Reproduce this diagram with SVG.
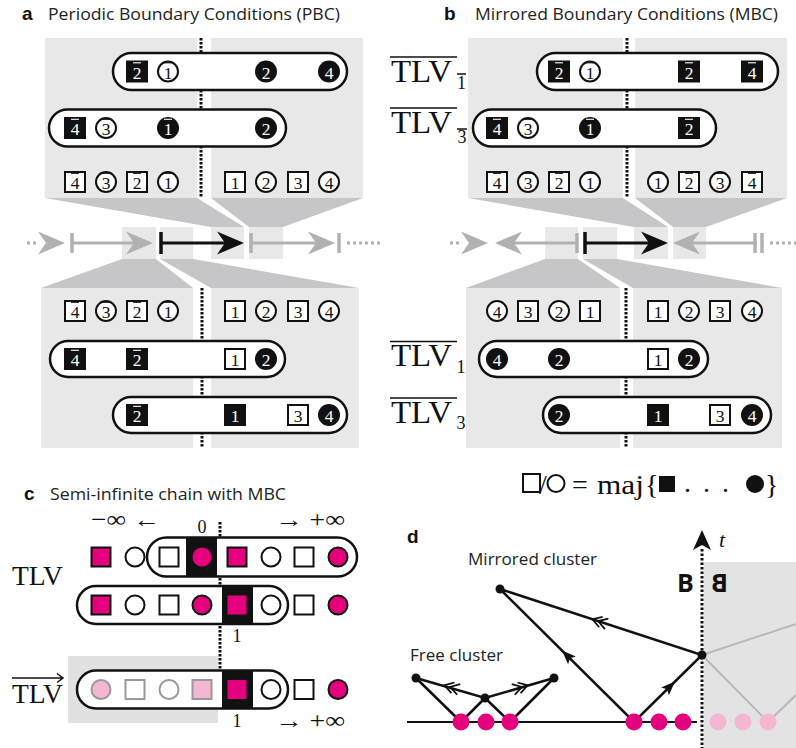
<svg xmlns="http://www.w3.org/2000/svg" xmlns:xlink="http://www.w3.org/1999/xlink" width="796" height="748" viewBox="0 0 796 748">
<style>
.g1{fill:#e8e8e8}
.g2{fill:#c6c6c8}
.pill{fill:#fff;stroke:#111;stroke-width:2.5}
.os{fill:#fff;stroke:#111;stroke-width:2}
.fs{fill:#111}
.d{font-family:"Liberation Serif","DejaVu Serif",serif;font-size:17.5px;text-anchor:middle;fill:#111;transform:translateY(1px)}
.dw{font-family:"Liberation Serif","DejaVu Serif",serif;font-size:17.5px;text-anchor:middle;fill:#fff;transform:translateY(1px)}
.ob{stroke:#111;stroke-width:1.1;fill:none;transform:translateY(-1.2px)}
.ow{stroke:#fff;stroke-width:1.1;fill:none;transform:translateY(-1.2px)}
.dot{stroke:#111;stroke-width:3;stroke-dasharray:2.4 1.6;fill:none}
.gl{stroke:#b1b1b5;stroke-width:3;fill:none}
.gt{stroke:#b1b1b5;stroke-width:3.5;fill:none}
.gd{stroke:#b1b1b5;stroke-width:3;stroke-dasharray:3 3;fill:none}
.ttl{font-family:"Open Sans","Liberation Sans",sans-serif;font-size:15.5px;fill:#222}
.lab{font-family:"Liberation Sans","Open Sans",sans-serif;font-size:19px;font-weight:bold;fill:#111}
.tlv{font-family:"Liberation Serif","DejaVu Serif",serif;font-size:31px;fill:#111}
.sub{font-family:"Liberation Serif","DejaVu Serif",serif;font-size:18px;fill:#111;text-anchor:middle}
.ser{font-family:"Liberation Serif","DejaVu Serif",serif;fill:#111}
.ovl{stroke:#111;stroke-width:1.5;fill:none}
.pk{fill:#e5007d;stroke:#111;stroke-width:2}
.pkn{fill:#e5007d}
.lp{fill:#f4b6d2;stroke:#999;stroke-width:2}
.go{fill:#fff;stroke:#999;stroke-width:2}
.ln{stroke:#111;stroke-width:2.5;fill:none}
.lg{stroke:#b8b8b8;stroke-width:2;fill:none}
</style>
<defs>
<path id="ah" d="M0,0 L-27,-11.5 L-19,0 L-27,11.5 Z"/>
<path id="tri" d="M7,0 L-7,-5.5 L-4,0 L-7,5.5 Z"/>
<g id="chev" fill="none" stroke="#111" stroke-width="1.8"><polyline points="-1,-5.5 8,0 -1,5.5"/><polyline points="-7,-5.5 2,0 -7,5.5"/></g>
</defs>

<!-- ===== Panel a ===== -->
<g id="title-a">
<text class="lab" x="22" y="20">a</text>
<text class="ttl" x="48" y="20" textLength="292" lengthAdjust="spacingAndGlyphs">Periodic Boundary Conditions (PBC)</text>
</g>
<g id="a-background">
<rect class="g1" x="45" y="38" width="152" height="160"/>
<rect class="g1" x="211" y="38" width="152" height="160"/>
<polygon class="g2" points="45,198 197,198 244,227 211,227"/>
<polygon class="g2" points="211,198 363,198 283,227 249,227"/>
<rect class="g1" x="122" y="227" width="34" height="32"/>
<rect class="g1" x="160" y="227" width="33" height="32"/>
<rect class="g1" x="211" y="227" width="33" height="32"/>
<rect class="g1" x="249" y="227" width="34" height="32"/>
<polygon class="g2" points="122,259 156,259 193,288 41,288"/>
<polygon class="g2" points="160,259 193,259 359,288 211,288"/>
<rect class="g1" x="41" y="288" width="152" height="160"/>
<rect class="g1" x="211" y="288" width="148" height="160"/>
<path class="dot" d="M201 38V198"/>
<path class="dot" d="M202 288V448"/>
</g>
<g id="a-axis">
<path class="gd" d="M27 243H38"/>
<use xlink:href="#ah" x="65" y="243" fill="#b1b1b5"/>
<path class="gt" d="M72 233V253"/>
<path class="gl" d="M72 243H140"/>
<use xlink:href="#ah" x="153" y="243" fill="#b1b1b5"/>
<path d="M161 232V254" stroke="#111" stroke-width="3.5"/>
<path d="M161 243H232" stroke="#111" stroke-width="3"/>
<use xlink:href="#ah" x="244" y="243" fill="#111"/>
<path class="gt" d="M251 233V253"/>
<path class="gl" d="M251 243H322"/>
<use xlink:href="#ah" x="335" y="243" fill="#b1b1b5"/>
<path class="gt" d="M339 233V253"/>
<path class="gd" d="M347 243H380"/>
</g>
<g id="a-top-tlv1">
<rect class="pill" x="113" y="53" width="234" height="37" rx="18.5"/>
<rect class="fs" x="126" y="60.5" width="22" height="22"/><text class="dw" x="137" y="77.5">2</text><path class="ow" d="M133 64h8"/>
<circle class="os" cx="168" cy="71.5" r="10"/><text class="d" x="168" y="77.5">1</text><path class="ob" d="M164 64h8"/>
<circle class="fs" cx="266" cy="71.5" r="11"/><text class="dw" x="266" y="77.5">2</text>
<circle class="fs" cx="329" cy="71.5" r="11"/><text class="dw" x="329" y="77.5">4</text>
</g>
<g id="a-top-tlv3">
<rect class="pill" x="49" y="109.5" width="237" height="37" rx="18.5"/>
<rect class="fs" x="64" y="117" width="22" height="22"/><text class="dw" x="75" y="134">4</text><path class="ow" d="M71 120.5h8"/>
<circle class="os" cx="106" cy="128" r="10"/><text class="d" x="106" y="134">3</text><path class="ob" d="M102 120.5h8"/>
<circle class="fs" cx="168" cy="128" r="11"/><text class="dw" x="168" y="134">1</text><path class="ow" d="M164 120.5h8"/>
<circle class="fs" cx="266" cy="128" r="11"/><text class="dw" x="266" y="134">2</text>
</g>
<g id="a-top-sites">
<rect class="os" x="65" y="172" width="20" height="20"/><text class="d" x="75" y="188">4</text><path class="ob" d="M71 174.5h8"/>
<circle class="os" cx="106" cy="182" r="10"/><text class="d" x="106" y="188">3</text><path class="ob" d="M102 174.5h8"/>
<rect class="os" x="127" y="172" width="20" height="20"/><text class="d" x="137" y="188">2</text><path class="ob" d="M133 174.5h8"/>
<circle class="os" cx="168" cy="182" r="10"/><text class="d" x="168" y="188">1</text><path class="ob" d="M164 174.5h8"/>
<rect class="os" x="225" y="172" width="20" height="20"/><text class="d" x="235" y="188">1</text>
<circle class="os" cx="266" cy="182" r="10"/><text class="d" x="266" y="188">2</text>
<rect class="os" x="288" y="172" width="20" height="20"/><text class="d" x="298" y="188">3</text>
<circle class="os" cx="329" cy="182" r="10"/><text class="d" x="329" y="188">4</text>
</g>
<g id="a-bot-sites">
<rect class="os" x="65" y="301" width="20" height="20"/><text class="d" x="75" y="317">4</text><path class="ob" d="M71 303.5h8"/>
<circle class="os" cx="106" cy="311" r="10"/><text class="d" x="106" y="317">3</text><path class="ob" d="M102 303.5h8"/>
<rect class="os" x="127" y="301" width="20" height="20"/><text class="d" x="137" y="317">2</text><path class="ob" d="M133 303.5h8"/>
<circle class="os" cx="168" cy="311" r="10"/><text class="d" x="168" y="317">1</text><path class="ob" d="M164 303.5h8"/>
<rect class="os" x="225" y="301" width="20" height="20"/><text class="d" x="235" y="317">1</text>
<circle class="os" cx="266" cy="311" r="10"/><text class="d" x="266" y="317">2</text>
<rect class="os" x="288" y="301" width="20" height="20"/><text class="d" x="298" y="317">3</text>
<circle class="os" cx="329" cy="311" r="10"/><text class="d" x="329" y="317">4</text>
</g>
<g id="a-bot-tlv1">
<rect class="pill" x="50" y="341" width="235" height="36" rx="18"/>
<rect class="fs" x="64" y="348" width="22" height="22"/><text class="dw" x="75" y="365">4</text><path class="ow" d="M71 351.5h8"/>
<rect class="fs" x="126" y="348" width="22" height="22"/><text class="dw" x="137" y="365">2</text><path class="ow" d="M133 351.5h8"/>
<rect class="os" x="225" y="349" width="20" height="20"/><text class="d" x="235" y="365">1</text>
<circle class="fs" cx="266" cy="359" r="11"/><text class="dw" x="266" y="365">2</text>
</g>
<g id="a-bot-tlv3">
<rect class="pill" x="113" y="397" width="234" height="36" rx="18"/>
<rect class="fs" x="126" y="404" width="22" height="22"/><text class="dw" x="137" y="421">2</text><path class="ow" d="M133 407.5h8"/>
<rect class="fs" x="224" y="404" width="22" height="22"/><text class="dw" x="235" y="421">1</text>
<rect class="os" x="288" y="405" width="20" height="20"/><text class="d" x="298" y="421">3</text>
<circle class="fs" cx="329" cy="415" r="11"/><text class="dw" x="329" y="421">4</text>
</g>

<!-- ===== Panel b ===== -->
<g id="title-b">
<text class="lab" x="444" y="20">b</text>
<text class="ttl" x="475" y="20" textLength="303" lengthAdjust="spacingAndGlyphs">Mirrored Boundary Conditions (MBC)</text>
</g>
<g id="b-background">
<rect class="g1" x="468" y="38" width="155" height="160"/>
<rect class="g1" x="635" y="38" width="152" height="160"/>
<polygon class="g2" points="468,198 623,198 668,227 634,227"/>
<polygon class="g2" points="635,198 787,198 706,227 673,227"/>
<rect class="g1" x="545" y="227" width="33" height="32"/>
<rect class="g1" x="583" y="227" width="34" height="32"/>
<rect class="g1" x="634" y="227" width="34" height="32"/>
<rect class="g1" x="673" y="227" width="33" height="32"/>
<polygon class="g2" points="545,259 578,259 620,288 466,288"/>
<polygon class="g2" points="583,259 617,259 782,288 633,288"/>
<rect class="g1" x="466" y="288" width="154" height="160"/>
<rect class="g1" x="633" y="288" width="149" height="160"/>
<path class="dot" d="M627 38V198"/>
<path class="dot" d="M626 288V448"/>
</g>
<g id="b-axis">
<path class="gd" d="M450 243H461"/>
<use xlink:href="#ah" x="488" y="243" fill="#b1b1b5"/>
<use xlink:href="#ah" transform="translate(495,243) scale(-1,1)" fill="#b1b1b5"/>
<path class="gl" d="M505 243H577"/>
<path class="gt" d="M577 233V253"/>
<path d="M585 232V254" stroke="#111" stroke-width="3.5"/>
<path d="M585 243H656" stroke="#111" stroke-width="3"/>
<use xlink:href="#ah" x="668" y="243" fill="#111"/>
<use xlink:href="#ah" transform="translate(673,243) scale(-1,1)" fill="#b1b1b5"/>
<path class="gl" d="M685 243H757"/>
<path class="gt" d="M755 233V253"/>
<path class="gt" d="M762 233V253"/>
<path class="gd" d="M770 243H796"/>
</g>
<g id="b-label-tlv-1bar">
<path class="ovl" d="M390 57H457"/>
<text class="tlv" x="391" y="82" textLength="61" lengthAdjust="spacingAndGlyphs">TLV</text>
<path class="ovl" d="M457 74H466"/>
<text class="sub" x="461.5" y="89">1</text>
</g>
<g id="b-label-tlv-3bar">
<path class="ovl" d="M390 108H457"/>
<text class="tlv" x="391" y="133" textLength="61" lengthAdjust="spacingAndGlyphs">TLV</text>
<path class="ovl" d="M457 129H467"/>
<text class="sub" x="462" y="143">3</text>
</g>
<g id="b-label-tlv-1">
<path class="ovl" d="M390 341.5H457"/>
<text class="tlv" x="391" y="366" textLength="61" lengthAdjust="spacingAndGlyphs">TLV</text>
<text class="sub" x="461" y="373">1</text>
</g>
<g id="b-label-tlv-3">
<path class="ovl" d="M390 398H457"/>
<text class="tlv" x="391" y="423" textLength="61" lengthAdjust="spacingAndGlyphs">TLV</text>
<text class="sub" x="461" y="429">3</text>
</g>
<g id="b-top-tlv1">
<rect class="pill" x="537" y="53" width="241" height="37" rx="18.5"/>
<rect class="fs" x="548" y="60.5" width="22" height="22"/><text class="dw" x="559" y="77.5">2</text><path class="ow" d="M555 64h8"/>
<circle class="os" cx="590" cy="71.5" r="10"/><text class="d" x="590" y="77.5">1</text><path class="ob" d="M586 64h8"/>
<rect class="fs" x="678" y="60.5" width="22" height="22"/><text class="dw" x="689" y="77.5">2</text><path class="ow" d="M685 64h8"/>
<rect class="fs" x="741" y="60.5" width="22" height="22"/><text class="dw" x="752" y="77.5">4</text><path class="ow" d="M748 64h8"/>
</g>
<g id="b-top-tlv3">
<rect class="pill" x="473" y="109.5" width="243" height="37" rx="18.5"/>
<rect class="fs" x="486" y="117" width="22" height="22"/><text class="dw" x="497" y="134">4</text><path class="ow" d="M493 120.5h8"/>
<circle class="os" cx="528" cy="128" r="10"/><text class="d" x="528" y="134">3</text><path class="ob" d="M524 120.5h8"/>
<circle class="fs" cx="590" cy="128" r="11"/><text class="dw" x="590" y="134">1</text><path class="ow" d="M586 120.5h8"/>
<rect class="fs" x="678" y="117" width="22" height="22"/><text class="dw" x="689" y="134">2</text><path class="ow" d="M685 120.5h8"/>
</g>
<g id="b-top-sites">
<rect class="os" x="487" y="172" width="20" height="20"/><text class="d" x="497" y="188">4</text><path class="ob" d="M493 174.5h8"/>
<circle class="os" cx="528" cy="182" r="10"/><text class="d" x="528" y="188">3</text><path class="ob" d="M524 174.5h8"/>
<rect class="os" x="549" y="172" width="20" height="20"/><text class="d" x="559" y="188">2</text><path class="ob" d="M555 174.5h8"/>
<circle class="os" cx="590" cy="182" r="10"/><text class="d" x="590" y="188">1</text><path class="ob" d="M586 174.5h8"/>
<circle class="os" cx="658" cy="182" r="10"/><text class="d" x="658" y="188">1</text><path class="ob" d="M654 174.5h8"/>
<rect class="os" x="679" y="172" width="20" height="20"/><text class="d" x="689" y="188">2</text><path class="ob" d="M685 174.5h8"/>
<circle class="os" cx="720" cy="182" r="10"/><text class="d" x="720" y="188">3</text><path class="ob" d="M716 174.5h8"/>
<rect class="os" x="742" y="172" width="20" height="20"/><text class="d" x="752" y="188">4</text><path class="ob" d="M748 174.5h8"/>
</g>
<g id="b-bot-sites">
<circle class="os" cx="497" cy="311" r="10"/><text class="d" x="497" y="317">4</text>
<rect class="os" x="518" y="301" width="20" height="20"/><text class="d" x="528" y="317">3</text>
<circle class="os" cx="559" cy="311" r="10"/><text class="d" x="559" y="317">2</text>
<rect class="os" x="580" y="301" width="20" height="20"/><text class="d" x="590" y="317">1</text>
<rect class="os" x="648" y="301" width="20" height="20"/><text class="d" x="658" y="317">1</text>
<circle class="os" cx="689" cy="311" r="10"/><text class="d" x="689" y="317">2</text>
<rect class="os" x="710" y="301" width="20" height="20"/><text class="d" x="720" y="317">3</text>
<circle class="os" cx="752" cy="311" r="10"/><text class="d" x="752" y="317">4</text>
</g>
<g id="b-bot-tlv1">
<rect class="pill" x="479" y="341" width="229" height="36" rx="18"/>
<circle class="fs" cx="497" cy="359" r="11"/><text class="dw" x="497" y="365">4</text>
<circle class="fs" cx="559" cy="359" r="11"/><text class="dw" x="559" y="365">2</text>
<rect class="os" x="648" y="349" width="20" height="20"/><text class="d" x="658" y="365">1</text>
<circle class="fs" cx="689" cy="359" r="11"/><text class="dw" x="689" y="365">2</text>
</g>
<g id="b-bot-tlv3">
<rect class="pill" x="543" y="397" width="228" height="36" rx="18"/>
<circle class="fs" cx="559" cy="415" r="11"/><text class="dw" x="559" y="421">2</text>
<rect class="fs" x="647" y="404" width="22" height="22"/><text class="dw" x="658" y="421">1</text>
<rect class="os" x="710" y="405" width="20" height="20"/><text class="d" x="720" y="421">3</text>
<circle class="fs" cx="752" cy="415" r="11"/><text class="dw" x="752" y="421">4</text>
</g>
<g id="formula">
<rect x="523" y="474" width="17" height="18" fill="none" stroke="#111" stroke-width="2"/>
<text class="ser" x="539" y="494" font-size="28">/</text>
<circle cx="556" cy="483.5" r="8.5" fill="none" stroke="#111" stroke-width="2"/>
<text class="ser" x="580" y="494" font-size="28" text-anchor="middle">=</text>
<text class="ser" x="597" y="494" font-size="28" textLength="47" lengthAdjust="spacingAndGlyphs">maj</text>
<text class="ser" x="645" y="494" font-size="28">{</text>
<rect x="659" y="476" width="16" height="16" fill="#111"/>
<text class="ser" x="684" y="492" font-size="28" letter-spacing="12">...</text>
<circle cx="755" cy="484" r="9" fill="#111"/>
<text class="ser" x="765" y="494" font-size="28">}</text>
</g>

<!-- ===== Panel c ===== -->
<g id="title-c">
<text class="lab" x="24" y="500">c</text>
<text class="ttl" x="50" y="500" textLength="236" lengthAdjust="spacingAndGlyphs">Semi-infinite chain with MBC</text>
</g>
<g id="c-labels">
<text class="ser" x="91" y="527" font-size="23" textLength="69" lengthAdjust="spacingAndGlyphs">−∞ ←</text>
<text class="ser" x="202" y="533" font-size="18" text-anchor="middle">0</text>
<text class="ser" x="275" y="527" font-size="23" textLength="70" lengthAdjust="spacingAndGlyphs">→ +∞</text>
<text class="ser" x="237" y="642" font-size="18" text-anchor="middle">1</text>
<text class="ser" x="237" y="727" font-size="18" text-anchor="middle">1</text>
<text class="ser" x="275" y="728" font-size="23" textLength="70" lengthAdjust="spacingAndGlyphs">→ +∞</text>
<text class="ser" x="12" y="585" font-size="27" textLength="51" lengthAdjust="spacingAndGlyphs">TLV</text>
<text class="ser" x="12" y="703" font-size="27" textLength="51" lengthAdjust="spacingAndGlyphs">TLV</text>
<path d="M12 678H62M57 673.5L63 678L57 682.5" fill="none" stroke="#111" stroke-width="1.5"/>
</g>
<g id="c-background">
<rect x="68" y="656" width="150" height="67" fill="#e1e1e1"/>
<path class="dot" d="M220 522V670"/>
</g>
<g id="c-row1">
<rect class="pk" x="91.5" y="547.5" width="19" height="19"/>
<circle class="os" cx="135" cy="557" r="9.5"/>
<rect class="pill" x="147" y="537.5" width="210" height="39" rx="19.5"/>
<rect class="os" x="159.5" y="547.5" width="19" height="19"/>
<rect class="fs" x="186" y="537.5" width="31" height="39"/>
<circle class="pkn" cx="202" cy="557" r="9.5"/>
<rect class="pk" x="227.5" y="547.5" width="19" height="19"/>
<circle class="os" cx="271" cy="557" r="9.5"/>
<rect class="os" x="294.5" y="547.5" width="19" height="19"/>
<circle class="pk" cx="338" cy="557" r="9.5"/>
</g>
<g id="c-row2">
<rect class="pill" x="77" y="586" width="211" height="38" rx="19"/>
<rect class="pk" x="91.5" y="595.5" width="19" height="19"/>
<circle class="os" cx="135" cy="605" r="9.5"/>
<rect class="os" x="159.5" y="595.5" width="19" height="19"/>
<circle class="pk" cx="202" cy="605" r="9.5"/>
<rect class="fs" x="222" y="586" width="31" height="38"/>
<rect class="pkn" x="227.5" y="595.5" width="19" height="19"/>
<circle class="os" cx="271" cy="605" r="9.5"/>
<rect class="os" x="294.5" y="595.5" width="19" height="19"/>
<circle class="pk" cx="338" cy="605" r="9.5"/>
</g>
<g id="c-row3">
<rect class="pill" x="77" y="670.5" width="211" height="38" rx="19"/>
<circle class="lp" cx="101" cy="689.5" r="9.5"/>
<rect class="go" x="125.5" y="680" width="19" height="19"/>
<circle class="go" cx="169" cy="689.5" r="9.5"/>
<rect class="lp" x="192.5" y="680" width="19" height="19"/>
<rect class="fs" x="222" y="670.5" width="31" height="38"/>
<rect class="pkn" x="227.5" y="680" width="19" height="19"/>
<circle class="os" cx="271" cy="689.5" r="9.5"/>
<rect class="os" x="294.5" y="680" width="19" height="19"/>
<circle class="pk" cx="338" cy="689.5" r="9.5"/>
</g>

<!-- ===== Panel d ===== -->
<g id="d-background">
<rect x="704" y="562" width="92" height="186" fill="#e3e3e3"/>
<text class="lab" x="407" y="543" font-size="21">d</text>
<text class="ttl" x="468" y="565" textLength="129" lengthAdjust="spacingAndGlyphs">Mirrored cluster</text>
<text class="ttl" x="410" y="661" textLength="93" lengthAdjust="spacingAndGlyphs">Free cluster</text>
<text x="677" y="592" font-family="'Open Sans','Liberation Sans',sans-serif" font-size="25" font-weight="bold" fill="#111">B</text>
<text transform="translate(1440,0) scale(-1,1)" x="712" y="592" font-family="'Open Sans','Liberation Sans',sans-serif" font-size="25" font-weight="bold" fill="#111">B</text>
<text x="719" y="547" font-family="'Liberation Serif',serif" font-style="italic" font-size="22" fill="#111">t</text>
</g>
<g id="connectors">
<path class="lg" d="M702 655L796 624M702 655L768 722L796 695"/>
<path class="ln" d="M416 678L461 722M485 698L461 722M485 698L510 722M554 678L510 722"/>
<path class="ln" d="M416 678L485 698L554 678"/>
<path class="ln" d="M500 589L634 722L702 655L500 589"/>
<use xlink:href="#chev" transform="translate(452,687.5) rotate(196.2)"/>
<use xlink:href="#chev" transform="translate(520,687.5) rotate(-16.2)"/>
<use xlink:href="#chev" transform="translate(600,621.7) rotate(198.1)"/>
<use xlink:href="#tri" fill="#111" transform="translate(567,655.5) rotate(224.8)"/>
<use xlink:href="#tri" fill="#111" transform="translate(670,686.5) rotate(-44.6)"/>
<path d="M407 722H697" stroke="#111" stroke-width="2"/>
<path d="M702 549V748" stroke="#111" stroke-width="3" stroke-dasharray="2.5 2"/>
<path d="M702 530L693 550L702 545L711 550Z" fill="#111"/>
</g>
<g id="d-sites">
<circle class="pkn" cx="461" cy="722" r="8.5"/>
<circle class="pkn" cx="486" cy="722" r="8.5"/>
<circle class="pkn" cx="510" cy="722" r="8.5"/>
<circle class="pkn" cx="634" cy="722" r="8.5"/>
<circle class="pkn" cx="659" cy="722" r="8.5"/>
<circle class="pkn" cx="683" cy="722" r="8.5"/>
<circle cx="718" cy="722" r="8.5" fill="#f4b6d2"/>
<circle cx="743" cy="722" r="8.5" fill="#f4b6d2"/>
<circle cx="768" cy="722" r="8.5" fill="#f4b6d2"/>
</g>
<g id="d-nodes">
<circle cx="416" cy="678" r="4.5" fill="#111"/>
<circle cx="485" cy="698" r="4.5" fill="#111"/>
<circle cx="554" cy="678" r="4.5" fill="#111"/>
<circle cx="500" cy="589" r="4.5" fill="#111"/>
<circle cx="702" cy="655" r="4.5" fill="#111"/>
</g>
</svg>
